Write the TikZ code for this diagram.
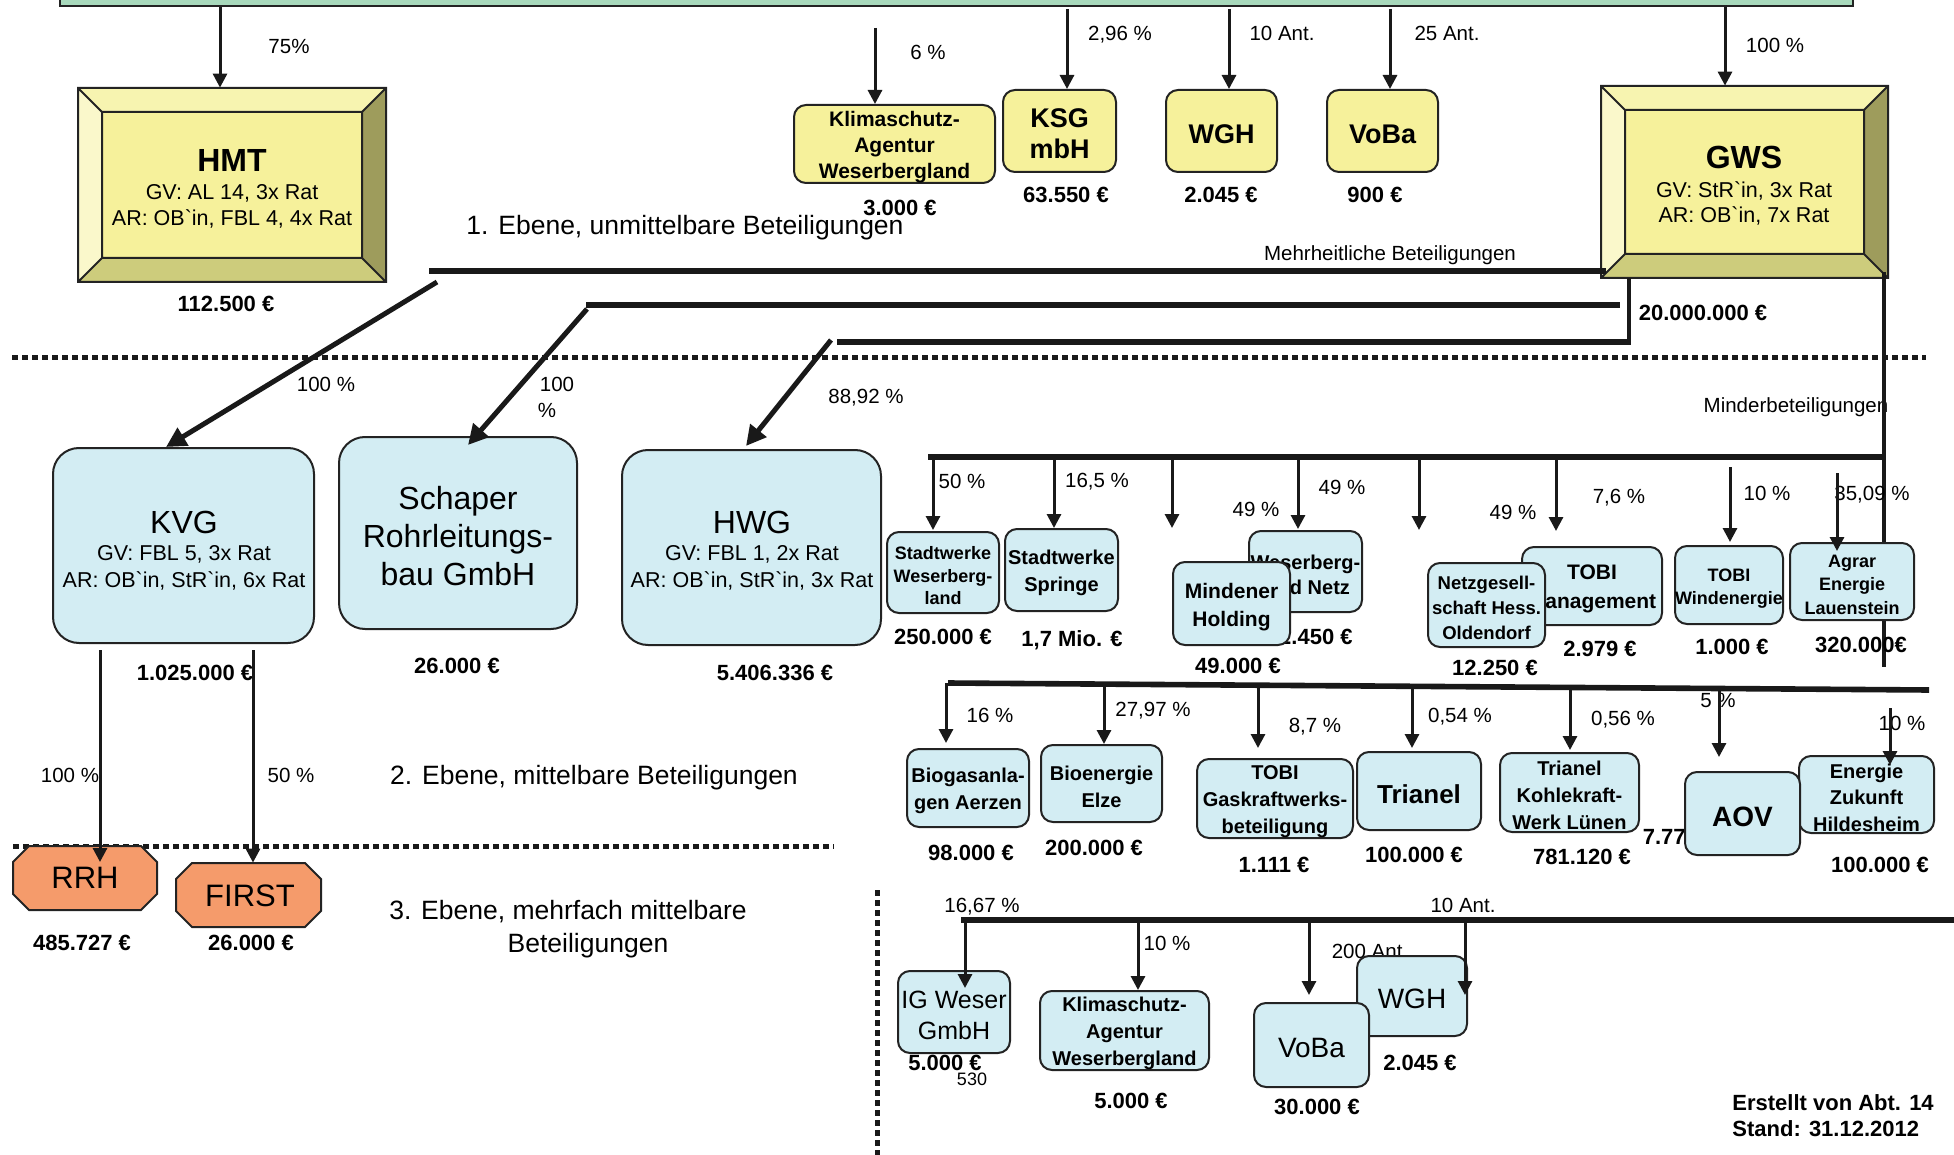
\documentclass[tikz,border=0pt]{standalone}
\usepackage{fontspec}
\setmainfont{Liberation Sans}
\newfontfamily\rawsans{Liberation Sans}
\newcommand\grv{{\rawsans\char"60}}
\usetikzlibrary{arrows.meta,fit}
\definecolor{gbar}{RGB}{168,217,188}
\definecolor{yfill}{RGB}{246,241,155}
\definecolor{ytop}{RGB}{247,244,176}
\definecolor{yleft}{RGB}{250,248,203}
\definecolor{yright}{RGB}{158,156,92}
\definecolor{ybot}{RGB}{205,204,124}
\definecolor{bfill}{RGB}{211,237,243}
\definecolor{ofill}{RGB}{245,155,107}
\definecolor{edgecol}{RGB}{35,35,35}
\definecolor{linecol}{RGB}{25,25,25}
\newcommand\bevelbox[5]{%
 \fill[ytop] (#1,#2) -- (#3,#2) -- ({#3-#5},{#2+#5}) -- ({#1+#5},{#2+#5}) -- cycle;
 \fill[yleft] (#1,#2) -- ({#1+#5},{#2+#5}) -- ({#1+#5},{#4-#5}) -- (#1,#4) -- cycle;
 \fill[yright] (#3,#2) -- ({#3-#5},{#2+#5}) -- ({#3-#5},{#4-#5}) -- (#3,#4) -- cycle;
 \fill[ybot] (#1,#4) -- ({#1+#5},{#4-#5}) -- ({#3-#5},{#4-#5}) -- (#3,#4) -- cycle;
 \fill[yfill] ({#1+#5},{#2+#5}) rectangle ({#3-#5},{#4-#5});
 \draw[edgecol, line width=1pt] (#1,#2) rectangle (#3,#4) ({#1+#5},{#2+#5}) rectangle ({#3-#5},{#4-#5})
   (#1,#2) -- ({#1+#5},{#2+#5}) (#3,#2) -- ({#3-#5},{#2+#5}) (#1,#4) -- ({#1+#5},{#4-#5}) (#3,#4) -- ({#3-#5},{#4-#5});}
\newcommand\octobox[4]{%
 \filldraw[fill=ofill,draw=edgecol,line width=1pt] ({#1+16},#2) -- ({#3-16},#2) -- (#3,{#2+16}) -- (#3,{#4-16}) -- ({#3-16},#4) -- ({#1+16},#4) -- (#1,{#4-16}) -- (#1,{#2+16}) -- cycle;}
% box node: style, name, corner1, corner2, text style, text
\newcommand\boxnode[6]{%
 \node[#1, fit={(#3) (#4)}] (#2) {};
 \node[#5, align=center, inner sep=0pt, yshift=-1.6pt] (#2T) at (#2.center) {#6};}
\begin{document}
\begin{tikzpicture}[x=0.5pt, y=-0.5pt,
 pct/.style={font=\fontsize{10.25}{12}\selectfont, inner sep=0pt, text height=7.4pt, text depth=0pt},
 amt/.style={font=\bfseries\fontsize{11}{13}\selectfont, inner sep=0pt, text height=7.9pt, text depth=0pt},
 info/.style={font=\fontsize{10.75}{13}\selectfont, inner sep=0pt, text height=7.7pt, text depth=0pt},
 lvl/.style={font=\fontsize{13.25}{16}\selectfont, inner sep=0pt, text height=9.5pt, text depth=0pt},
 ttl/.style={font=\fontsize{16}{19}\selectfont, inner sep=0pt, text height=11.5pt, text depth=0pt},
 bttl/.style={font=\bfseries\fontsize{16}{19}\selectfont, inner sep=0pt, text height=11.5pt, text depth=0pt},
 bbox/.style={draw=edgecol, line width=1pt, fill=bfill, rounded corners=6pt, inner sep=0pt},
 bigbox/.style={bbox, rounded corners=13pt},
 ybox/.style={draw=edgecol, line width=1pt, fill=yfill, rounded corners=6pt, inner sep=0pt},
 bf/.style 2 args={font=\bfseries\fontsize{#1}{#2}\selectfont},
 rg/.style 2 args={font=\fontsize{#1}{#2}\selectfont},
 arr/.style={draw=linecol, line width=1.5pt, -{Triangle[width=7pt,length=7pt]}},
 darr/.style={draw=linecol, line width=2.5pt, -{Triangle[width=10pt,length=10pt]}},
 bus/.style={draw=linecol, line width=2.8pt},
 vln/.style={draw=linecol, line width=2pt},
 dotl/.style={draw=linecol, line width=2.5pt, dash pattern=on 3pt off 2pt}]
\useasboundingbox (0,0) rectangle (1954,1155);
% top bar
\node[draw=edgecol, line width=1pt, fill=gbar, fit={(60,-40) (1853,6)}, inner sep=0pt] (top) {};
% dotted separators
\draw[dotl] (12,357) -- (1926,357);
\draw[dotl] (13,846) -- (834,846);
\draw[dotl] (877,890) -- (877,1155);
% level 1: HMT
\bevelbox{78}{88}{386}{282}{24}
\node[fit={(78,88) (386,282)}, inner sep=0pt] (hmt) {};
\node[bttl] (hmtT) at (232,160) {HMT};
\node[info] (hmtG) at (232,192) {GV: AL 14, 3x Rat};
\node[info] (hmtA) at (232,218) {AR: OB\grv in, FBL 4, 4x Rat};
\node[amt] (hmtE) at (226,304) {112.500 €};
\node[pct] (p75) at (289,46) {75\%};
% GWS
\bevelbox{1601}{86}{1888}{278}{24}
\node[fit={(1601,86) (1888,278)}, inner sep=0pt] (gws) {};
\node[bttl] (gwsT) at (1744,157) {GWS};
\node[info] (gwsG) at (1744,190) {GV: StR\grv in, 3x Rat};
\node[info] (gwsA) at (1744,215) {AR: OB\grv in, 7x Rat};
\node[pct] (p100g) at (1775,45) {100 \%};
\node[amt] (gwsE) at (1703,313) {20.000.000 €};
% small yellow
\boxnode{ybox}{klim1}{794,105}{995,183}{bf={10.5}{13}}{Klimaschutz-\\Agentur\\Weserbergland}
\boxnode{ybox}{ksg}{1003,90}{1116,172}{bf={13.5}{15.5}}{KSG\\mbH}
\boxnode{ybox}{wgh1}{1166,90}{1277,172}{bf={13.5}{15.5}}{WGH}
\boxnode{ybox}{voba1}{1327,90}{1438,172}{bf={13.5}{15.5}}{VoBa}
\node[pct] (p6) at (928,52) {6 \%};
\node[pct] (p296) at (1120,33) {2,96 \%};
\node[pct] (p10a) at (1282,33) {10 Ant.};
\node[pct] (p25a) at (1447,33) {25 Ant.};
\node[amt] (e3000) at (900,208) {3.000 €};
\node[amt] (e63550) at (1066,195) {63.550 €};
\node[amt] (e2045) at (1221,195) {2.045 €};
\node[amt] (e900) at (1375,195) {900 €};
\node[lvl] (lvl1) at (685,225) {1. Ebene, unmittelbare Beteiligungen};
\node[pct] (mehr) at (1390,253) {Mehrheitliche Beteiligungen};
\node[pct] (minder) at (1796,405) {Minderbeteiligungen};
% buses from GWS
\draw[bus] (429,271) -- (1606,271);
\draw[bus] (586,305) -- (1620,305);
\draw[bus] (837,342) -- (1631,342);
\draw[vln] (gws.south -| 1629,0) -- (1629,343);
\draw[vln] (1884,272) -- (1884,667);
% level 2 big boxes
\node[bigbox, fit={(53,448) (314,643)}] (kvg) {};
\node[ttl] (kvgT) at (184,522) {KVG};
\node[info] (kvgG) at (184,553) {GV: FBL 5, 3x Rat};
\node[info] (kvgA) at (184,580) {AR: OB\grv in, StR\grv in, 6x Rat};
\boxnode{bigbox}{schaper}{339,437}{577,629}{rg={16}{19}}{Schaper\\Rohrleitungs-\\bau GmbH}
\node[bigbox, fit={(622,450) (881,645)}] (hwg) {};
\node[ttl] (hwgT) at (752,522) {HWG};
\node[info] (hwgG) at (752,553) {GV: FBL 1, 2x Rat};
\node[info] (hwgA) at (752,580) {AR: OB\grv in, StR\grv in, 3x Rat};
\node[amt] (e1025) at (195,673) {1.025.000 €};
\node[amt] (e26s) at (457,666) {26.000 €};
\node[amt] (e5406) at (775,673) {5.406.336 €};
\node[pct] (p100k) at (326,384) {100 \%};
\node[pct] (p100s) at (557,384) {100};
\node[pct] (p100s2) at (547,410) {\%};
\node[pct] (p8892) at (866,396) {88,92 \%};
\node[pct] (p100r) at (70,775) {100 \%};
\node[pct] (p50f) at (291,775) {50 \%};
\node[lvl] (lvl2) at (594,775) {2. Ebene, mittelbare Beteiligungen};
% level 3
\octobox{13}{846}{157}{910}
\node[fit={(13,846) (157,910)}, inner sep=0pt] (rrh) {};
\node[rg={15.5}{18}, inner sep=0pt] (rrhT) at (85,878) {RRH};
\octobox{176}{863}{321}{927}
\node[fit={(176,863) (321,927)}, inner sep=0pt] (first) {};
\node[rg={15.5}{18}, inner sep=0pt] (firstT) at (250,896) {FIRST};
\node[amt] (e485) at (82,943) {485.727 €};
\node[amt] (e26f) at (251,943) {26.000 €};
\node[lvl] (lvl3a) at (568,910) {3. Ebene, mehrfach mittelbare};
\node[lvl] (lvl3b) at (588,943) {Beteiligungen};
% minority bus
\draw[bus] (928,457) -- (1885,457);
\boxnode{bbox}{sww}{887,532}{999,613}{bf={9}{11.2}}{Stadtwerke\\Weserberg-\\land}
\boxnode{bbox}{sws}{1005,529}{1118,611}{bf={10}{13.5}}{Stadtwerke\\Springe}
\boxnode{bbox}{wbn}{1249,531}{1362,612}{bf={10}{12.5}}{Weserberg-\\land Netz}
\node[amt, anchor=east] (e12450) at (1353,637) {12.450 €};
\boxnode{bbox}{mind}{1173,562}{1290,645}{bf={10.5}{14}}{Mindener\\Holding}
\boxnode{bbox}{tobim}{1522,547}{1662,625}{bf={10.5}{14.5}}{TOBI\\Management}
\boxnode{bbox}{netz}{1428,563}{1545,647}{bf={9.25}{12.5}}{Netzgesell-\\schaft Hess.\\Oldendorf}
\boxnode{bbox}{tobiw}{1675,546}{1783,624}{bf={9}{11.5}}{TOBI\\Windenergie}
\boxnode{bbox}{agrar}{1790,543}{1914,620}{bf={9}{11.75}}{Agrar\\Energie\\Lauenstein}
\node[amt] (e250) at (943,637) {250.000 €};
\node[amt] (e17) at (1072,639) {1,7 Mio. €};
\node[amt] (e49) at (1238,666) {49.000 €};
\node[amt] (e12250) at (1495,668) {12.250 €};
\node[amt] (e2979) at (1600,649) {2.979 €};
\node[amt] (e1000) at (1732,647) {1.000 €};
\node[amt] (e320) at (1861,645) {320.000€};
\node[pct] (p50) at (962,481) {50 \%};
\node[pct] (p165) at (1097,480) {16,5 \%};
\node[pct] (p49a) at (1342,487) {49 \%};
\node[pct] (p49b) at (1256,509) {49 \%};
\node[pct] (p49c) at (1513,512) {49 \%};
\node[pct] (p76) at (1619,496) {7,6 \%};
\node[pct] (p10b) at (1767,493) {10 \%};
\node[pct] (p3509) at (1872,493) {35,09 \%};
% second minority bus
\draw[bus] (948,683) -- (1929,690);
\boxnode{bbox}{bio}{907,749}{1029,827}{bf={10}{13.5}}{Biogasanla-\\gen Aerzen}
\boxnode{bbox}{elze}{1041,745}{1162,822}{bf={10}{13.5}}{Bioenergie\\Elze}
\boxnode{bbox}{tobig}{1197,759}{1353,838}{bf={10}{13.5}}{TOBI\\Gaskraftwerks-\\beteiligung}
\boxnode{bbox}{trianel}{1357,752}{1481,830}{bf={13}{15}}{Trianel}
\boxnode{bbox}{kohle}{1500,753}{1639,832}{bf={10}{13.5}}{Trianel\\Kohlekraft-\\Werk Lünen}
\node[amt, anchor=east] (e777) at (1686,837) {7.77};
\boxnode{bbox}{ezh}{1799,756}{1934,833}{bf={10}{13.25}}{Energie\\Zukunft\\Hildesheim}
\boxnode{bbox}{aov}{1685,772}{1800,855}{bf={14}{16}}{AOV}
\node[amt] (e98) at (971,853) {98.000 €};
\node[amt] (e200) at (1094,848) {200.000 €};
\node[amt] (e1111) at (1274,865) {1.111 €};
\node[amt] (e100t) at (1414,855) {100.000 €};
\node[amt] (e781) at (1582,857) {781.120 €};
\node[amt] (e100e) at (1880,865) {100.000 €};
\node[pct] (p16) at (990,715) {16 \%};
\node[pct] (p2797) at (1153,709) {27,97 \%};
\node[pct] (p87) at (1315,725) {8,7 \%};
\node[pct] (p054) at (1460,715) {0,54 \%};
\node[pct] (p056) at (1623,718) {0,56 \%};
\node[pct] (p5) at (1718,700) {5 \%};
\node[pct] (p10c) at (1902,723) {10 \%};
% third bus
\draw[bus] (961,920) -- (1954,920);
\node[pct] (p1667) at (982,905) {16,67 \%};
\node[pct] (p10d) at (1463,905) {10 Ant.};
\node[pct] (p10e) at (1167,943) {10 \%};
\node[pct] (p200) at (1370,951) {200 Ant.};
\boxnode{bbox}{igw}{898,971}{1010,1053}{rg={12.5}{15.5}}{IG Weser\\GmbH}
\boxnode{bbox}{klim2}{1040,991}{1209,1070}{bf={10}{13.5}}{Klimaschutz-\\Agentur\\Weserbergland}
\boxnode{bbox}{wgh2}{1357,956}{1467,1036}{rg={14}{16}}{WGH}
\boxnode{bbox}{voba2}{1254,1003}{1369,1087}{rg={14}{16}}{VoBa}
\node[amt] (e5a) at (945,1063) {5.000 €};
\node[pct, font=\fontsize{9}{11}\selectfont] (n530) at (972,1078) {530};
\node[amt] (e5b) at (1131,1101) {5.000 €};
\node[amt] (e30) at (1317,1107) {30.000 €};
\node[amt] (e2045b) at (1420,1063) {2.045 €};
\node[amt, anchor=west] (erst) at (1732,1103) {Erstellt von Abt. 14};
\node[amt, anchor=west] (stand) at (1732,1129) {Stand: 31.12.2012};
% arrows level 1
\draw[arr] (top.south -| 220,0) -- (hmt.north -| 220,0);
\draw[arr] (875,28) -- (klim1.north -| 875,0);
\draw[arr] (1067,9) -- (ksg.north -| 1067,0);
\draw[arr] (1229,9) -- (wgh1.north -| 1229,0);
\draw[arr] (1390,9) -- (voba1.north -| 1390,0);
\draw[arr] (top.south -| 1725,0) -- (gws.north -| 1725,0);
% diagonals
\draw[darr] (437,282) -- (kvg.north -| 166,0);
\draw[darr] (587,309) -- (468,445);
\draw[darr] (831,340) -- (746,446);
% KVG down
\draw[arr] (kvg.south -| 100,0) ++(0,6) -- (100,862);
\draw[arr] (kvg.south -| 253,0) ++(0,6) -- (first.north -| 253,0);
% minority arrows
\draw[arr] (933,457) -- (933,530);
\draw[arr] (1054,457) -- (sws.north -| 1054,0);
\draw[arr] (1172,457) -- (1172,528);
\draw[arr] (1298,457) -- (1298,529);
\draw[arr] (1419,457) -- (1419,530);
\draw[arr] (1556,457) -- (1556,531);
\draw[arr] (1730,467) -- (1730,542);
\draw[arr] (1837,473) -- (1837,551);
% second bus arrows
\draw[arr] (946,683) -- (946,743);
\draw[arr] (1104,684) -- (elze.north -| 1104,0);
\draw[arr] (1258,685) -- (1258,748);
\draw[arr] (1412,686) -- (1412,748);
\draw[arr] (1570,687) -- (1570,750);
\draw[arr] (1719,688) -- (1719,757);
\draw[arr] (1890,708) -- (1890,765);
% third bus arrows
\draw[arr] (965,920) -- (965,988);
\draw[arr] (1138,920) -- (klim2.north -| 1138,0);
\draw[arr] (1309,920) -- (1309,995);
\draw[arr] (1465,920) -- (1465,995);
\end{tikzpicture}
\end{document}
